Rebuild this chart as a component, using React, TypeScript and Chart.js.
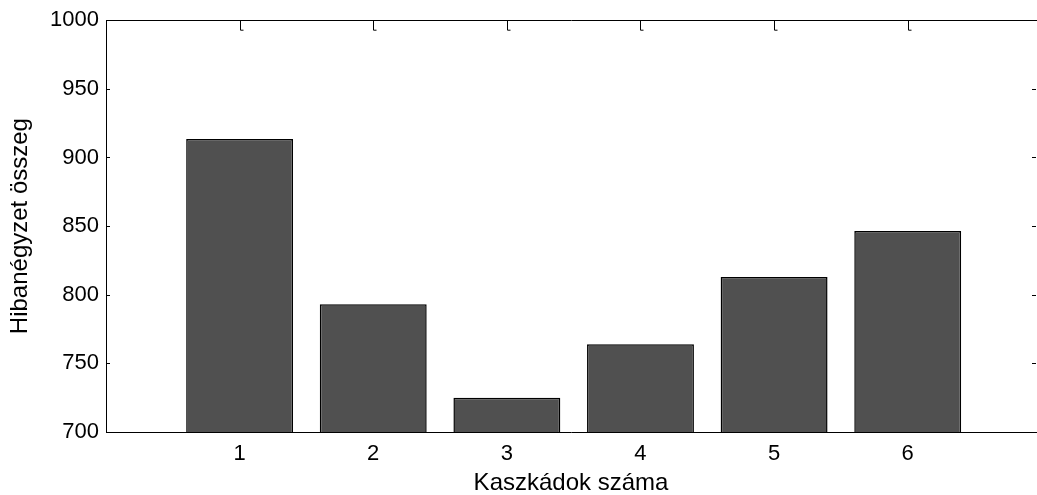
import React, { useEffect, useRef } from "react";
import { Chart, registerables } from "chart.js";

Chart.register(...registerables);

const categories = [1, 2, 3, 4, 5, 6];
const categoryLabels = ["1", "2", "3", "4", "5", "6"];
const errorSums = [913.5, 793, 725, 764, 813, 846.5];
const yTicks = [700, 750, 800, 850, 900, 950, 1000];
const yTickLabels = ["700", "750", "800", "850", "900", "950", "1000"];

const FONT = '"Liberation Sans", Arial, Helvetica, sans-serif';

const tickMarks = {
  id: "tickMarks",
  afterDraw(chart: any) {
    const { ctx, chartArea } = chart;
    const y = chart.scales.y;
    const x = chart.scales.x;
    ctx.save();
    ctx.strokeStyle = "#000";
    ctx.lineWidth = 1;
    ctx.beginPath();
    yTicks.forEach((v) => {
      const py = Math.round(y.getPixelForValue(v)) + 0.5;
      ctx.moveTo(chartArea.left, py);
      ctx.lineTo(chartArea.left + 4, py);
      ctx.moveTo(chartArea.right - 4, py);
      ctx.lineTo(chartArea.right, py);
    });
    categories.forEach((c) => {
      const px = Math.round(x.getPixelForValue(c)) + 0.5;
      ctx.moveTo(px, chartArea.top);
      ctx.lineTo(px, chartArea.top + 10);
      ctx.lineTo(px + 3, chartArea.top + 10);
    });
    ctx.stroke();
    ctx.restore();
  },
};

export default function App() {
  const ref = useRef<HTMLCanvasElement>(null);
  useEffect(() => {
    const chart = new Chart(ref.current!, {
      type: "bar",
      data: {
        datasets: [
          {
            data: categories.map((c, i) => ({ x: c, y: errorSums[i] })),
            backgroundColor: "#505050",
            borderColor: "#000",
            borderWidth: 1.5,
            base: 700,
            barPercentage: 0.8,
            categoryPercentage: 1,
          } as any,
        ],
      },
      options: {
        animation: false,
        responsive: false,
        devicePixelRatio: 1,
        layout: { padding: { left: 0, right: 1, top: 0, bottom: 0 } },
        plugins: { legend: { display: false }, tooltip: { enabled: false } },
        scales: {
          x: {
            type: "linear",
            position: "bottom",
            offset: false,
            min: 0,
            max: 6.96,
            z: 1,
            afterBuildTicks: (s: any) => {
              s.ticks = categories.map((v) => ({ value: v }));
            },
            afterFit: (s: any) => {
              s.height = 63;
            },
            grid: { display: false, drawTicks: false, offset: false },
            border: { display: true, color: "#000", width: 1 },
            ticks: {
              color: "#000",
              padding: 9,
              maxRotation: 0,
              autoSkip: false,
              font: { family: FONT, size: 22 },
              callback: (v: any) => {
                const i = categories.indexOf(Number(v));
                return i >= 0 ? categoryLabels[i] : "";
              },
            },
            title: {
              display: true,
              text: "Kaszkádok száma",
              color: "#000",
              font: { family: FONT, size: 24, lineHeight: 1 },
              padding: { top: 0, bottom: 0 },
            },
          },
          xTop: {
            type: "linear",
            position: "top",
            offset: false,
            min: 0,
            max: 6.96,
            afterFit: (s: any) => {
              s.height = 20;
            },
            grid: { display: false, drawTicks: false },
            border: { display: true, color: "#000", width: 1 },
            ticks: { display: false },
          },
          y: {
            type: "linear",
            position: "left",
            min: 700,
            max: 1000,
            afterBuildTicks: (s: any) => {
              s.ticks = yTicks.map((v) => ({ value: v }));
            },
            afterFit: (s: any) => {
              s.width = 106;
            },
            grid: { display: false, drawTicks: false },
            border: { display: true, color: "#000", width: 1 },
            ticks: {
              color: "#000",
              padding: 7,
              font: { family: FONT, size: 22 },
              callback: (v: any) => {
                const i = yTicks.indexOf(Number(v));
                return i >= 0 ? yTickLabels[i] : "";
              },
            },
            title: {
              display: true,
              text: "Hibanégyzet összeg",
              color: "#000",
              font: { family: FONT, size: 24, lineHeight: 1 },
              padding: { top: 8, bottom: 0 },
            },
          },
        },
      },
      plugins: [tickMarks],
    } as any);
    return () => chart.destroy();
  }, []);
  return (
    <div style={{ position: "absolute", left: 0, top: 0, width: 1037, height: 495, background: "#fff" }}>
      <canvas ref={ref} width={1037} height={495} style={{ display: "block" }} />
    </div>
  );
}
